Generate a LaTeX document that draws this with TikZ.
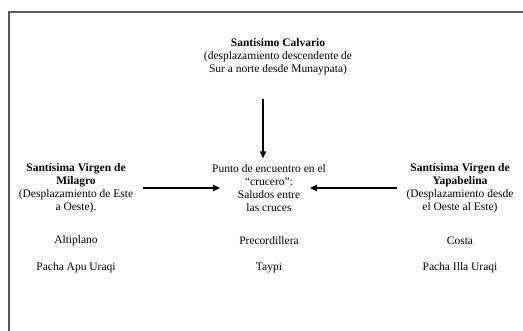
\documentclass[tikz,border=0pt]{standalone}
\usepackage{fontspec}
\setmainfont{Liberation Serif}
\usetikzlibrary{arrows.meta}
\begin{document}
\begin{tikzpicture}[x=1pt,y=-1pt,
    texto/.style={align=center,font=\fontsize{11.5}{13}\selectfont,inner sep=2pt},
    flecha/.style={-{Triangle[length=7pt,width=6.5pt]},line width=1.3pt}]
  \useasboundingbox (0,0) rectangle (523,331);
  \draw[black!65,line width=1.2pt] (9,331) -- (9,12) -- (523,12);
  % columnas
  \node[texto] (calvario) at (278,57) {\textbf{Santísimo Calvario}\\(desplazamiento descendente de\\Sur a norte desde Munaypata)};
  \node[texto] (punto) at (269,188) {Punto de encuentro en el\\“crucero”:\\Saludos entre\\las cruces};
  \node[texto] (milagro) at (76,188) {\textbf{Santísima Virgen de}\\\textbf{Milagro}\\(Desplazamiento de Este\\a Oeste).};
  \node[texto] (yapabelina) at (460,188) {\textbf{Santísima Virgen de}\\\textbf{Yapabelina}\\(Desplazamiento desde\\el Oeste al Este)};
  \node[texto] (altiplano) at (76,241) {Altiplano};
  \node[texto] (precordillera) at (269,241) {Precordillera};
  \node[texto] (costa) at (460,241) {Costa};
  \node[texto] (apu) at (76,268) {Pacha Apu Uraqi};
  \node[texto] (taypi) at (269,268) {Taypi};
  \node[texto] (illa) at (460,268) {Pacha Illa Uraqi};
  % flechas
  \draw[flecha,shorten <=22pt,shorten >=4pt] ([xshift=-15pt]calvario.south) -- ([xshift=-15pt]calvario.south |- punto.north);
  \draw[flecha] ([xshift=8pt]milagro.east) -- ([xshift=10pt]punto.west);
  \draw[flecha] ([xshift=-7pt]yapabelina.west) -- ([xshift=-18pt]punto.east);
\end{tikzpicture}
\end{document}
